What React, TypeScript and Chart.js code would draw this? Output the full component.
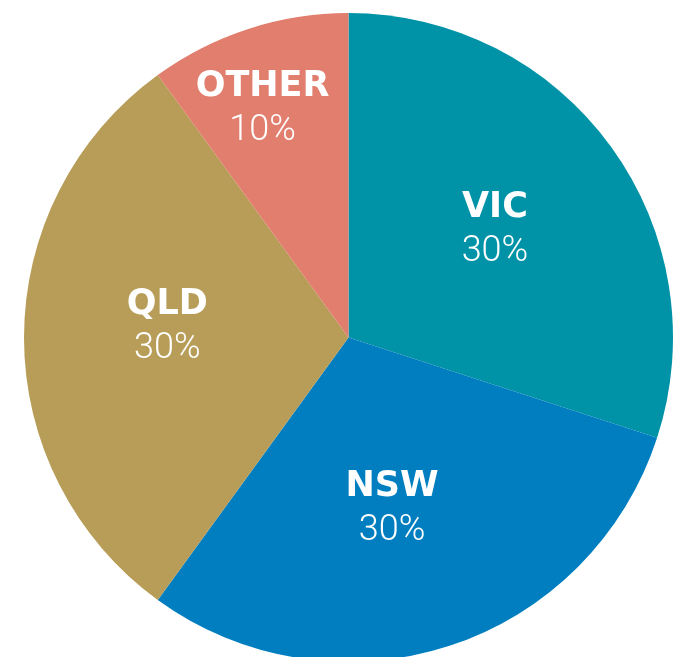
import React, { useEffect, useRef } from "react";
import { Chart, registerables } from "chart.js";

Chart.register(...registerables);

const categories = ["VIC", "NSW", "QLD", "OTHER"];
const shares = [30, 30, 30, 10];
const percentLabels = ["30%", "30%", "30%", "10%"];
const colors = ["#0093A8", "#007EC0", "#B79D57", "#E27E6D"];

// label placement: fraction of radius and angle offset (deg) from slice mid-angle
const labelRadius = [0.565, 0.535, 0.56, 0.76];
const labelAngleOffset = [-1, 3.5, 4.4, -2.4];

const labelPlugin = {
  id: "sliceLabels",
  afterDatasetsDraw(chart: any) {
    const ctx = chart.ctx;
    const meta = chart.getDatasetMeta(0);
    meta.data.forEach((arc: any, i: number) => {
      const mid = (arc.startAngle + arc.endAngle) / 2 + (labelAngleOffset[i] * Math.PI) / 180;
      const r = arc.outerRadius * labelRadius[i];
      const x = arc.x + Math.cos(mid) * r;
      const y = arc.y + Math.sin(mid) * r;
      ctx.save();
      ctx.fillStyle = "#ffffff";
      ctx.textAlign = "center";
      ctx.textBaseline = "middle";
      ctx.font = "bold 35px 'DejaVu Sans', 'Liberation Sans', sans-serif";
      ctx.fillText(categories[i], x, y - 19);
      ctx.font = "300 36px Roboto, 'Liberation Sans', sans-serif";
      ctx.fillText(percentLabels[i], x, y + 25);
      ctx.restore();
    });
  },
};

export default function App() {
  const ref = useRef<HTMLCanvasElement | null>(null);
  useEffect(() => {
    if (!ref.current) return;
    const chart = new Chart(ref.current, {
      type: "pie",
      data: {
        labels: categories,
        datasets: [
          {
            data: shares,
            backgroundColor: colors,
            borderWidth: 0,
          },
        ],
      },
      options: {
        responsive: false,
        animation: false,
        layout: { padding: { left: 24, right: 17, top: 13, bottom: 18 } },
        plugins: {
          legend: { display: false },
          tooltip: { enabled: false },
        },
      },
      plugins: [labelPlugin],
    });
    return () => chart.destroy();
  }, []);
  return (
    <div
      style={{
        position: "fixed",
        left: 0,
        top: 0,
        width: 690,
        height: 657,
        overflow: "hidden",
        background: "#ffffff",
      }}
    >
      <canvas ref={ref} width={690} height={680} style={{ display: "block" }} />
    </div>
  );
}
